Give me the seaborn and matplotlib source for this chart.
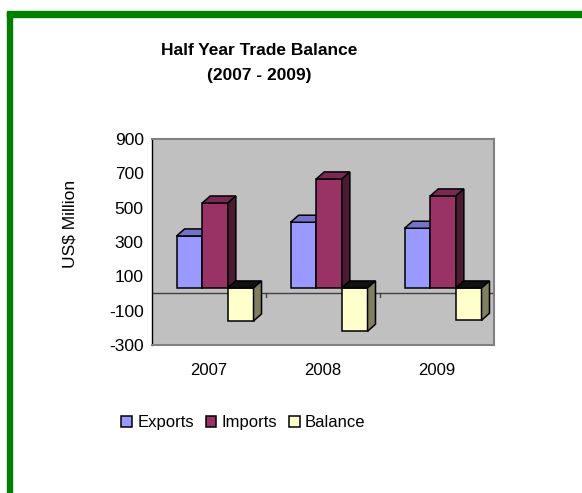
import numpy as np
import pandas as pd
import matplotlib
matplotlib.use('Agg')
import matplotlib.pyplot as plt
import seaborn as sns
from matplotlib.patches import Polygon, Patch

# Half year trade figures, US$ million
years = ['2007', '2008', '2009']
exports = [303, 383, 348]
imports = [495, 635, 536]
balance = [-192, -252, -188]

series = ['Exports', 'Imports', 'Balance']
front_colors = {'Exports': '#9999FF', 'Imports': '#993366', 'Balance': '#FFFFCC'}
top_colors = {'Exports': '#7373C8', 'Imports': '#7A2952', 'Balance': '#111111'}
side_colors = {'Exports': '#5C5CA8', 'Imports': '#4D1A33', 'Balance': '#808060'}

df = pd.DataFrame({
    'Year': years * 3,
    'Value': exports + imports + balance,
    'Series': ['Exports'] * 3 + ['Imports'] * 3 + ['Balance'] * 3,
})

sns.set_style('white')
plt.rcParams['font.family'] = ['Liberation Sans', 'DejaVu Sans']
plt.rcParams['axes.unicode_minus'] = False
plt.rcParams['text.color'] = 'black'
plt.rcParams['xtick.color'] = 'black'
plt.rcParams['ytick.color'] = 'black'

fig = plt.figure(figsize=(5.82, 4.93), dpi=100)
ax = fig.add_axes([0.2612, 0.3002, 0.5876, 0.4179])
ax.set_facecolor('#C0C0C0')

sns.barplot(data=df, x='Year', y='Value', hue='Series', hue_order=series,
            palette=front_colors, width=0.675, saturation=1, edgecolor='black',
            linewidth=1.1, legend=False, ax=ax)

ax.set_xlim(-0.5, 2.5)
ax.set_ylim(-300, 900)

# fake 3D look: floor offset, depth of the top and side faces
base = 32
dx = 0.07
dy = 41
shift = 0.053

for i, (name, cont) in enumerate(zip(series, ax.containers)):
    for p in cont.patches:
        p.set_x(p.get_x() + shift)
        p.set_y(p.get_y() + base)
        p.set_zorder(3 + i)
        x0 = p.get_x()
        x1 = x0 + p.get_width()
        h = p.get_height()
        y_hi = base + max(h, 0)
        y_lo = base + min(h, 0)
        top = Polygon([(x0, y_hi), (x1, y_hi), (x1 + dx, y_hi + dy), (x0 + dx, y_hi + dy)],
                      closed=True, facecolor=top_colors[name], edgecolor='black',
                      linewidth=1.1, zorder=3.1 + i)
        side = Polygon([(x1, y_lo), (x1, y_hi), (x1 + dx, y_hi + dy), (x1 + dx, y_lo + dy)],
                       closed=True, facecolor=side_colors[name], edgecolor='black',
                       linewidth=1.1, zorder=3.1 + i)
        ax.add_patch(top)
        ax.add_patch(side)

# zero line with category separators
ax.axhline(0, color='#404040', linewidth=1, zorder=2)
for b in [0.5, 1.5, 2.5]:
    ax.plot([b, b], [0, -22], color='#404040', linewidth=1, zorder=2)

ax.set_yticks(range(-300, 901, 200))
ax.tick_params(axis='y', direction='out', length=4, width=1, color='black',
               labelsize=12.5, pad=2)
ax.tick_params(axis='x', length=0, labelsize=12, pad=13)
ax.set_xlabel('')
ax.set_ylabel('')

for s in ['top', 'right', 'bottom']:
    ax.spines[s].set_color('#808080')
    ax.spines[s].set_linewidth(1.5)
ax.spines['left'].set_color('black')
ax.spines['left'].set_linewidth(1)

fig.text(0.121, 0.545, 'US$ Million', rotation=90, ha='center', va='center', fontsize=12.5)
fig.text(0.445, 0.898, 'Half Year Trade Balance', ha='center', va='center',
         fontsize=12.5, fontweight='bold')
fig.text(0.445, 0.847, '(2007 - 2009)', ha='center', va='center',
         fontsize=12.5, fontweight='bold')

handles = [Patch(facecolor=front_colors[s], edgecolor='black', linewidth=1.1, label=s)
           for s in series]
fig.legend(handles=handles, loc='center', bbox_to_anchor=(0.418, 0.142), ncol=3,
           frameon=False, fontsize=12, handlelength=0.65, handleheight=0.65,
           handletextpad=0.3, columnspacing=0.7)

# green frame on the left and top edges
fig.add_artist(plt.Rectangle((7 / 582, 0), 5 / 582, 1 - 11.5 / 493,
                             transform=fig.transFigure, color='#008000', zorder=10))
fig.add_artist(plt.Rectangle((7 / 582, 1 - 16.5 / 493), 1, 5 / 493,
                             transform=fig.transFigure, color='#008000', zorder=10))

fig.savefig('out.png', dpi=100)
